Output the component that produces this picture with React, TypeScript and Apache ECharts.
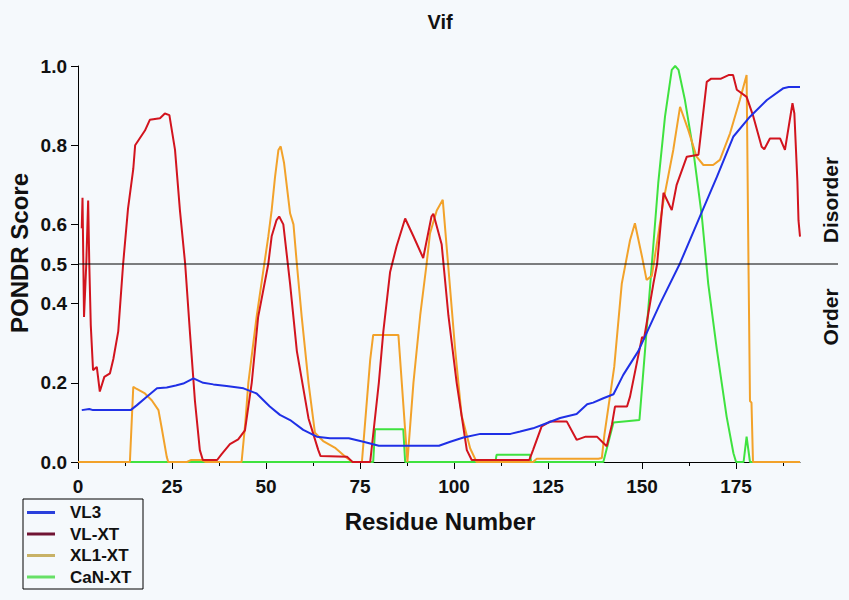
import React, { useEffect, useRef } from "react";
import * as echarts from "echarts";

// ---- data (residue, PONDR score) ----
const vl3: [number, number][] = [
  [1, 0.131], [3, 0.134], [4, 0.131], [14, 0.131], [15.6, 0.143], [18.3, 0.165], [21, 0.186],
  [23.6, 0.188], [26, 0.193], [28, 0.198], [30.7, 0.211], [33.3, 0.2], [36, 0.196], [39.5, 0.192],
  [44, 0.186], [47.5, 0.173], [51, 0.14], [53.7, 0.119], [56.4, 0.106], [59.9, 0.081], [63.5, 0.064],
  [67, 0.06], [72, 0.06], [75.9, 0.051], [80, 0.041], [96, 0.041], [99, 0.051], [102.5, 0.062],
  [107, 0.071], [115, 0.071], [117.6, 0.077], [121, 0.085], [124.6, 0.098], [128.2, 0.111],
  [132.6, 0.121], [135.4, 0.146], [137, 0.15], [139.7, 0.161], [142.4, 0.171], [145, 0.22],
  [149, 0.28], [154.8, 0.4], [160.1, 0.502], [165.4, 0.62], [169.9, 0.72], [174.3, 0.822],
  [178.7, 0.872], [183.2, 0.914], [187.6, 0.944], [189, 0.947], [192, 0.947],
];

const vlxt: [number, number][] = [
  [1, 0.59], [1.2, 0.667], [1.6, 0.366], [2.2, 0.5], [2.7, 0.66], [3, 0.5], [3.4, 0.345], [4, 0.232],
  [5, 0.24], [5.8, 0.178], [7, 0.215], [8.5, 0.224], [9.4, 0.26], [10.7, 0.33], [12, 0.5],
  [13.3, 0.64], [14.7, 0.74], [15.2, 0.8], [17.8, 0.837], [19.1, 0.864], [21.8, 0.868], [23.1, 0.88],
  [24.3, 0.876], [25.8, 0.788], [27.1, 0.636], [28.5, 0.5], [29.8, 0.323], [31.1, 0.154], [32.4, 0.03],
  [33.2, 0.005], [37, 0.005], [38.2, 0.02], [40.4, 0.045], [42.6, 0.057], [44.4, 0.08], [46.2, 0.2],
  [47.9, 0.366], [50.6, 0.5], [51.5, 0.57], [52.8, 0.611], [53.5, 0.62], [54.6, 0.6], [56.4, 0.45],
  [58.2, 0.28], [61.3, 0.11], [63.9, 0.03], [64.5, 0.015], [71.6, 0.013], [73, 0], [77.7, 0],
  [80, 0.2], [81.2, 0.33], [83, 0.48], [84.7, 0.544], [87, 0.615], [89.2, 0.57], [91.8, 0.515],
  [94, 0.62], [94.5, 0.627], [96.7, 0.55], [98.5, 0.37], [100.7, 0.2], [103.4, 0.03], [104.7, 0.005],
  [120, 0.005], [121, 0.03], [123.3, 0.09], [125.5, 0.102], [130, 0.102], [132.6, 0.056], [135, 0.064],
  [138, 0.064], [140.6, 0.04], [142, 0.095], [142.8, 0.14], [146, 0.14], [146.8, 0.165], [150, 0.316],
  [150.5, 0.31], [153, 0.45], [154, 0.5], [155.7, 0.68], [157.9, 0.636], [159.2, 0.7], [161.9, 0.771],
  [165, 0.776], [167.2, 0.96], [168.4, 0.968], [171, 0.968], [173, 0.977], [174.2, 0.977],
  [175.2, 0.94], [177.8, 0.922], [179.6, 0.872], [181.8, 0.796], [182.5, 0.79], [184, 0.817],
  [186.7, 0.817], [188, 0.788], [190, 0.906], [190.5, 0.88], [191.3, 0.71], [191.6, 0.61], [192, 0.569],
];

const xl1xt: [number, number][] = [
  [0, 0], [13.8, 0], [14.7, 0.19], [15.5, 0.185], [17.8, 0.173], [19.6, 0.156], [21.4, 0.131],
  [22.2, 0.089], [23.6, 0.013], [24, 0], [29, 0], [30, 0.005], [33, 0.005], [34, 0], [43.5, 0],
  [44.5, 0.1], [45.3, 0.2], [47.5, 0.367], [50.6, 0.569], [51.5, 0.636], [52.4, 0.72], [53.3, 0.788],
  [53.9, 0.797], [54.8, 0.755], [56.4, 0.628], [57.3, 0.6], [58.2, 0.5], [59.5, 0.366], [61.3, 0.2],
  [63, 0.074], [65.2, 0.053], [68.5, 0.035], [71.5, 0.01], [73, 0], [75.5, 0], [77.7, 0.258],
  [78.5, 0.321], [85.2, 0.321], [87.6, 0], [89.2, 0.2], [91, 0.37], [92.7, 0.5], [93.6, 0.577],
  [95.4, 0.635], [97, 0.662], [98.5, 0.49], [100.3, 0.283], [102, 0.118], [104.3, 0.034], [106, 0],
  [121, 0], [122, 0.008], [138.4, 0.008], [139.3, 0.01], [140, 0.07], [142.6, 0.24], [144.6, 0.45],
  [146.8, 0.56], [148.1, 0.603], [150, 0.518], [151.2, 0.46], [152.6, 0.47], [155.7, 0.66],
  [158.3, 0.788], [160.1, 0.897], [162.3, 0.838], [164.5, 0.771], [166.3, 0.75], [168.9, 0.75],
  [170.7, 0.763], [173.4, 0.83], [176, 0.914], [177.8, 0.977], [178.3, 0.5], [178.7, 0.154],
  [179.1, 0.15], [179.5, 0], [192, 0],
];

const cannxt: [number, number][] = [
  [0, 0], [78.5, 0], [79, 0.083], [86.5, 0.083], [87, 0], [111, 0], [111.3, 0.018], [120.2, 0.018],
  [120.5, 0], [139.7, 0], [142.4, 0.1], [149.3, 0.106], [150.8, 0.283], [152.6, 0.5], [154.3, 0.704],
  [156.1, 0.872], [157.9, 0.99], [158.8, 1.0], [159.7, 0.99], [161.4, 0.914], [163.6, 0.788],
  [165.9, 0.62], [167.6, 0.45], [169.9, 0.283], [172.5, 0.114], [174.3, 0.022], [175, 0], [177, 0],
  [177.8, 0.064], [178.7, 0], [192, 0],
];

const seriesNames = ["VL3", "VL-XT", "XL1-XT", "CaN-XT"];
const yTicks = [0, 0.2, 0.4, 0.5, 0.6, 0.8, 1.0];
const xMajorTicks = [0, 25, 50, 75, 100, 125, 150, 175];
const xMinorTicks = [12.5, 37.5, 62.5, 87.5, 112.5, 137.5, 162.5, 187.5];
const threshold = 0.5;

const lineColors = ["#1f30e6", "#d2141e", "#f2a22a", "#3fe23f"];
const legendColors = ["#2a40dc", "#701434", "#c8b266", "#66e066"];

export default function App() {
  const ref = useRef<HTMLDivElement>(null);

  useEffect(() => {
    const el = ref.current;
    if (!el) return;
    const chart = echarts.init(el, null, { renderer: "svg" });
    const font = '"Liberation Sans", Arial, Helvetica, sans-serif';
    const txt = "#111111";

    const mk = (name: string, data: [number, number][], color: string, z: number) => ({
      name,
      type: "line",
      data,
      showSymbol: false,
      symbol: "none",
      z,
      lineStyle: { color, width: 2 },
      itemStyle: { color },
    });

    chart.setOption({
      animation: false,
      backgroundColor: "#f5f9fc",
      grid: { left: 78, top: 66, right: 49, bottom: 138, containLabel: false },
      xAxis: [
        {
          type: "value",
          min: 0,
          max: 192,
          position: "bottom",
          axisLine: { show: true, onZero: false, lineStyle: { color: "#000", width: 1 } },
          axisTick: { show: true, length: 7, customValues: xMajorTicks, lineStyle: { color: "#000" } },
          axisLabel: {
            customValues: xMajorTicks,
            margin: 15,
            fontSize: 19,
            fontWeight: "bold",
            fontFamily: font,
            color: txt,
          },
          splitLine: { show: false },
        },
        {
          type: "value",
          min: 0,
          max: 192,
          position: "bottom",
          axisLine: { show: false },
          axisTick: { show: true, length: 4, customValues: xMinorTicks, lineStyle: { color: "#000" } },
          axisLabel: { show: false },
          splitLine: { show: false },
        },
      ],
      yAxis: {
        type: "value",
        min: 0,
        max: 1,
        axisLine: { show: true, lineStyle: { color: "#000", width: 1 } },
        axisTick: { show: true, length: 7, customValues: yTicks, lineStyle: { color: "#000" } },
        axisLabel: {
          customValues: yTicks,
          formatter: (v: number) => v.toFixed(1),
          margin: 11,
          fontSize: 19,
          fontWeight: "bold",
          fontFamily: font,
          color: txt,
        },
        splitLine: { show: false },
      },
      series: [
        mk(seriesNames[3], cannxt, lineColors[3], 2),
        mk(seriesNames[2], xl1xt, lineColors[2], 3),
        mk(seriesNames[1], vlxt, lineColors[1], 4),
        mk(seriesNames[0], vl3, lineColors[0], 5),
      ],
    });

    const yT = chart.convertToPixel({ yAxisIndex: 0 }, threshold) as number;
    const xL = chart.convertToPixel({ xAxisIndex: 0 }, 0) as number;

    const legendX = 23;
    const legendY = 499;
    const rowH = 21.5;
    const legendItems: any[] = [
      {
        type: "rect",
        shape: { x: legendX, y: legendY, width: 120, height: 90 },
        style: { fill: "none", stroke: "#000", lineWidth: 1 },
      },
    ];
    seriesNames.forEach((n, i) => {
      const cy = legendY + 13.5 + i * rowH;
      legendItems.push({
        type: "line",
        shape: { x1: legendX + 4, y1: cy, x2: legendX + 32, y2: cy },
        style: { stroke: legendColors[i], lineWidth: 3 },
      });
      legendItems.push({
        type: "text",
        x: legendX + 47,
        y: cy,
        style: {
          text: n,
          fill: txt,
          font: `bold 17px ${font}`,
          textAlign: "left",
          textVerticalAlign: "middle",
        },
      });
    });

    chart.setOption({
      graphic: [
        {
          type: "line",
          z: 10,
          shape: { x1: xL, y1: yT, x2: 838, y2: yT },
          style: { stroke: "#000", lineWidth: 1 },
        },
        {
          type: "text",
          x: 440,
          y: 22,
          style: { text: "Vif", fill: txt, font: `bold 20px ${font}`, textAlign: "center", textVerticalAlign: "middle" },
        },
        {
          type: "text",
          x: 440,
          y: 521,
          style: { text: "Residue Number", fill: txt, font: `bold 24px ${font}`, textAlign: "center", textVerticalAlign: "middle" },
        },
        {
          type: "text",
          x: 19,
          y: 253,
          rotation: Math.PI / 2,
          style: { text: "PONDR Score", fill: txt, font: `bold 24px ${font}`, textAlign: "center", textVerticalAlign: "middle" },
        },
        {
          type: "text",
          x: 830,
          y: 200,
          rotation: Math.PI / 2,
          style: { text: "Disorder", fill: txt, font: `bold 21px ${font}`, textAlign: "center", textVerticalAlign: "middle" },
        },
        {
          type: "text",
          x: 830,
          y: 317,
          rotation: Math.PI / 2,
          style: { text: "Order", fill: txt, font: `bold 21px ${font}`, textAlign: "center", textVerticalAlign: "middle" },
        },
        ...legendItems,
      ],
    });

    return () => chart.dispose();
  }, []);

  return (
    <div
      ref={ref}
      style={{ position: "fixed", left: 0, top: 0, width: 849, height: 600, background: "#f5f9fc" }}
    />
  );
}
